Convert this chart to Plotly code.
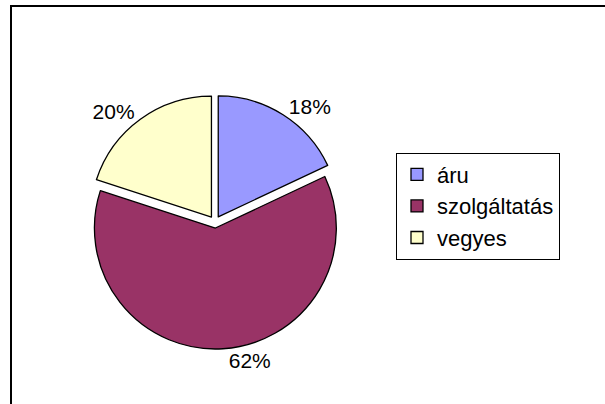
import plotly.graph_objects as go

labels = ["áru", "szolgáltatás", "vegyes"]
values = [18, 62, 20]
colors = ["#9999FF", "#993366", "#FFFFCC"]

W, H = 605, 404
FONT = "Liberation Sans, Arial, sans-serif"

fig = go.Figure(go.Pie(
    labels=labels,
    values=values,
    sort=False,
    direction="clockwise",
    rotation=0,
    pull=[0.05, 0.05, 0.05],
    marker=dict(colors=colors, line=dict(color="black", width=1.3)),
    textinfo="percent",
    texttemplate="%{percent:.0%}",
    textposition="outside",
    outsidetextfont=dict(family=FONT, size=21, color="black"),
    domain=dict(x=[88 / W, 342 / W], y=[(H - 349) / H, (H - 95) / H]),
    hoverinfo="label+percent",
))

fig.update_layout(
    width=W, height=H,
    margin=dict(l=0, r=0, t=0, b=0),
    paper_bgcolor="white",
    plot_bgcolor="white",
    font=dict(family=FONT, size=21, color="black"),
    showlegend=True,
    legend=dict(
        x=396 / W, y=1 - 206 / H, xanchor="left", yanchor="middle",
        bordercolor="black", borderwidth=1, bgcolor="white",
        font=dict(size=22),
    ),
    shapes=[dict(
        type="rect", xref="paper", yref="paper",
        x0=11 / W, x1=1.05, y0=-0.05, y1=1 - 6 / H,
        line=dict(color="black", width=2), fillcolor="rgba(0,0,0,0)", layer="below",
    )],
)

fig.write_html(
    "out.html",
    config={"displayModeBar": False},
    post_script="document.body.style.margin='0';",
)
